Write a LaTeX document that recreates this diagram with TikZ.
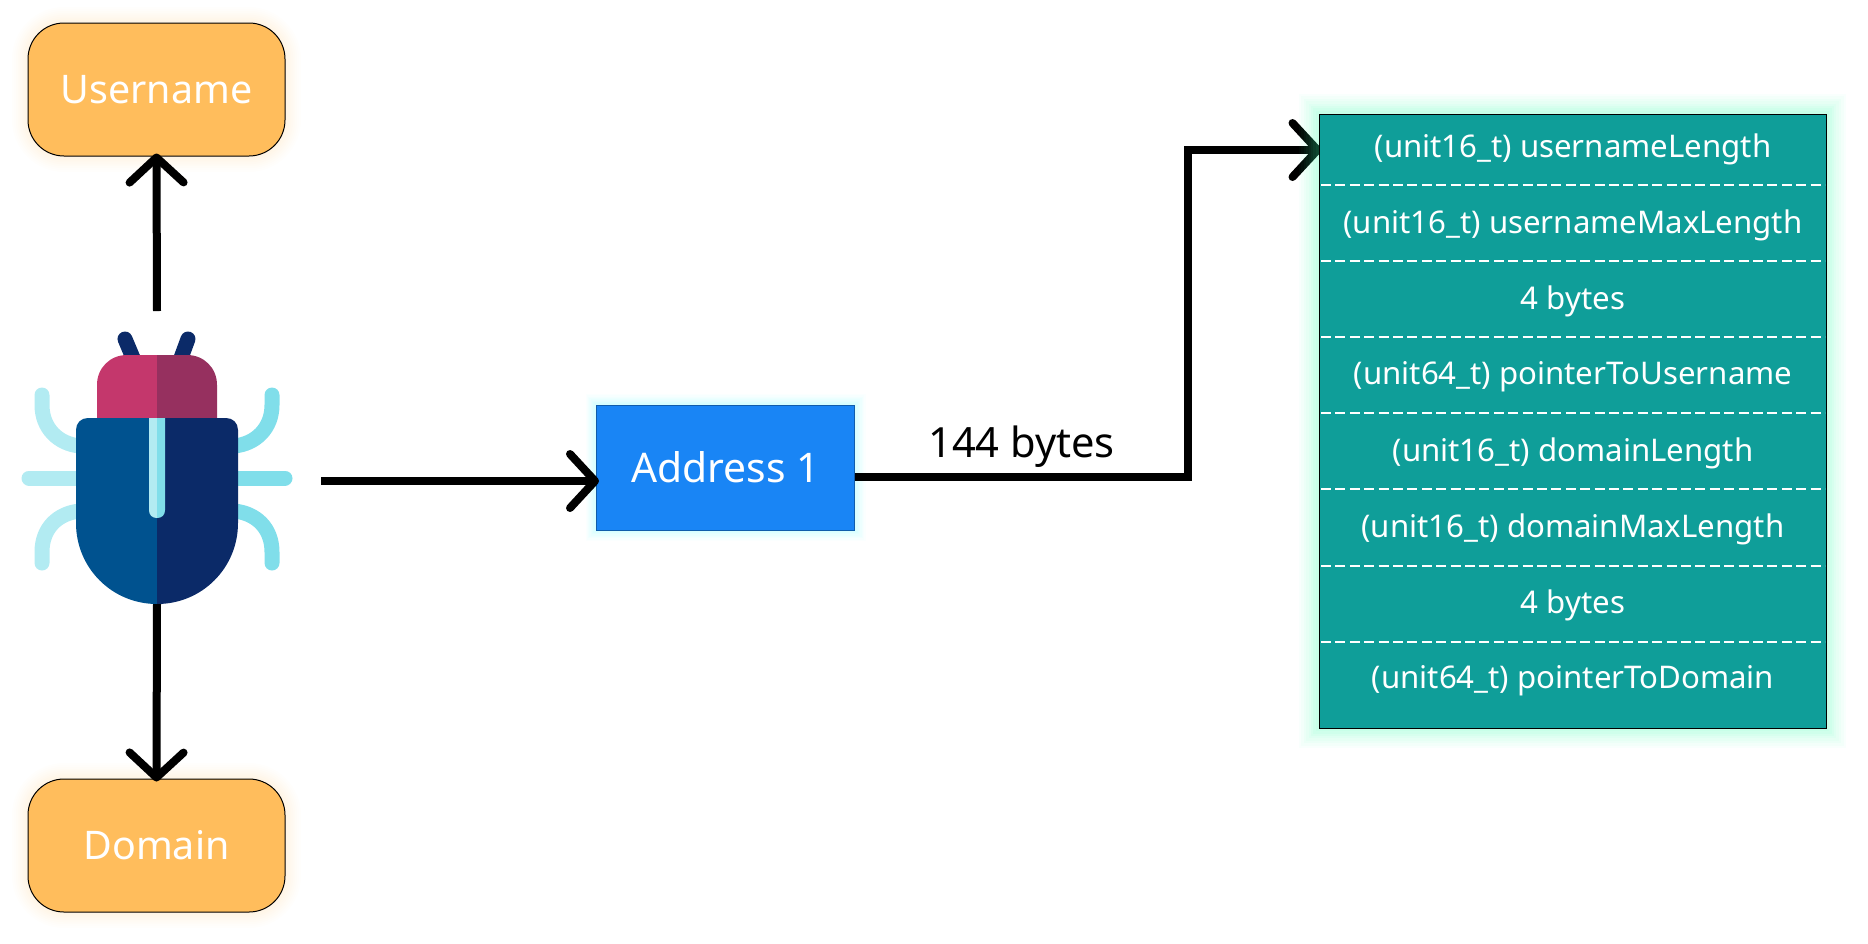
\documentclass[tikz,border=0pt]{standalone}
\usepackage{fontspec}
\setmainfont{Noto Sans}
\usetikzlibrary{arrows.meta}

\definecolor{bugBlueL}{HTML}{00528F}
\definecolor{bugBlueR}{HTML}{0B2A68}
\definecolor{bugHeadL}{HTML}{C4376C}
\definecolor{bugHeadR}{HTML}{96305F}
\definecolor{bugLegL}{HTML}{B2EBF2}
\definecolor{bugLegR}{HTML}{80DEEA}
\definecolor{fieldOrange}{HTML}{FFBD5C}
\definecolor{addrBlue}{HTML}{1985F5}
\definecolor{tableTeal}{HTML}{0F9E99}
\definecolor{tableGlow}{HTML}{40FFB0}
\definecolor{addrGlow}{HTML}{40FFFF}

\pgfdeclarelayer{behind}
\pgfsetlayers{behind,main}

\tikzset{
  glow/.style 2 args={
    preaction={draw=#1,draw opacity=.03,line width=#2*1pt},
    preaction={draw=#1,draw opacity=.03,line width=#2*.88pt},
    preaction={draw=#1,draw opacity=.04,line width=#2*.76pt},
    preaction={draw=#1,draw opacity=.04,line width=#2*.64pt},
    preaction={draw=#1,draw opacity=.04,line width=#2*.52pt},
    preaction={draw=#1,draw opacity=.05,line width=#2*.40pt},
    preaction={draw=#1,draw opacity=.05,line width=#2*.28pt},
    preaction={draw=#1,draw opacity=.05,line width=#2*.16pt}},
  fieldbox/.style={draw=black,line width=.5pt,fill=fieldOrange,rounded corners=18pt,
    minimum width=128.5pt,minimum height=66.5pt,glow={fieldOrange!50}{16},font=\fontsize{19.7}{23}\selectfont},
  addrbox/.style={draw=addrBlue!70!black,line width=.5pt,fill=addrBlue,
    minimum width=129pt,minimum height=62.5pt,glow={addrGlow!70}{11},font=\fontsize{20.4}{23}\selectfont},
  tablebox/.style={draw=black,line width=.5pt,fill=tableTeal,
    minimum width=253.5pt,minimum height=307pt,glow={tableGlow}{20}},
  rowtext/.style={font=\fontsize{15.6}{18}\selectfont},
  rowline/.style={draw=white,line width=1.2pt,dash pattern=on 5pt off 2.2pt},
  link/.style={line width=4pt,shorten >=-1.5pt,-{Straight Barb[length=12.5pt,width=27pt,round]}},
  leg/.style={line width=7.5pt,line cap=round}
}

\begin{document}
\begin{tikzpicture}
  [x=0.5pt,y=-0.5pt,every node/.style={text=white,inner sep=0pt}]

  \useasboundingbox (0,0) rectangle (1868,943);

  % boxes
  \node[fieldbox] (userBox) at (156.5,89.5) {Username};
  \node[fieldbox] (domainBox) at (156.5,845.5) {Domain};
  \node[tablebox] (tableBox) at (1572.5,421) {};

  % rows of the table
  \foreach \y/\rowname/\rowtxt in {149/row1/(unit16\_t) usernameLength,
                                  225/row2/(unit16\_t) usernameMaxLength,
                                  301/row3/4 bytes,
                                  377/row4/(unit64\_t) pointerToUsername,
                                  453/row5/(unit16\_t) domainLength,
                                  529/row6/(unit16\_t) domainMaxLength,
                                  605/row7/4 bytes,
                                  681/row8/(unit64\_t) pointerToDomain}
    \node[rowtext] (\rowname) at (1573,\y) {\rowtxt};

  \foreach \y in {185,261,337,413,489,566,642}
    \draw[rowline] (1321,\y) -- (1825,\y);

  % the bug
  \draw[leg,bugBlueR] (125,339) -- (133,358);
  \draw[leg,bugBlueR] (188,339) -- (181,358);

  \draw[leg,bugLegL] (42,395) -- (42,405) .. controls (42,428) and (58,444) .. (80,446);
  \draw[leg,bugLegL] (29,478) -- (80,478);
  \draw[leg,bugLegL] (80,511) .. controls (58,513) and (42,528) .. (42,552) -- (42,563);
  \draw[leg,bugLegR] (272,395) -- (272,405) .. controls (272,428) and (256,444) .. (234,446);
  \draw[leg,bugLegR] (285,478) -- (234,478);
  \draw[leg,bugLegR] (234,511) .. controls (256,513) and (272,528) .. (272,552) -- (272,563);

  \fill[bugHeadL] (157,355) -- (127,355) .. controls (110,355) and (97,368) .. (97,385) -- (97,420) -- (157,420) -- cycle;
  \fill[bugHeadR] (157,355) -- (187,355) .. controls (204,355) and (217,368) .. (217,385) -- (217,420) -- (157,420) -- cycle;

  \fill[bugBlueL] (157,418) -- (88,418) .. controls (81,418) and (76,423) .. (76,430) -- (76,523)
    .. controls (76,568) and (112,604) .. (157,604) -- cycle;
  \fill[bugBlueR] (157,418) -- (226,418) .. controls (233,418) and (238,423) .. (238,430) -- (238,523)
    .. controls (238,568) and (202,604) .. (157,604) -- cycle;

  \fill[bugLegL] (157,418) -- (149,418) -- (149,510) .. controls (149,515) and (152,518) .. (157,518) -- cycle;
  \fill[bugLegR] (157,418) -- (165,418) -- (165,510) .. controls (165,515) and (162,518) .. (157,518) -- cycle;

  \coordinate (bugTop) at (157,311);
  \coordinate (bugBottom) at (157,604);
  \coordinate (bugRight) at (321,481);
  \coordinate (tableIn) at (tableBox.west |- 0,150);

  % connectors, the one into the table runs under its glow
  \draw[link] (bugTop) -- (userBox.south);
  \draw[link] (bugBottom) -- (domainBox.north);
  \begin{pgfonlayer}{behind}
    \node[addrbox] (addrBox) at (725.5,467.5) {Address 1};
    \coordinate (addrOut) at (addrBox.east |- 0,477);
    \coordinate (addrTurn) at (1188,477);
    \draw[link] (bugRight) -- (bugRight -| addrBox.west);
    \draw[link] (addrOut) -- node[above=3pt,text=black,font=\fontsize{20.8}{25}\selectfont] (sizeLabel) {144 bytes} (addrTurn) |- (tableIn);
  \end{pgfonlayer}
\end{tikzpicture}
\end{document}
